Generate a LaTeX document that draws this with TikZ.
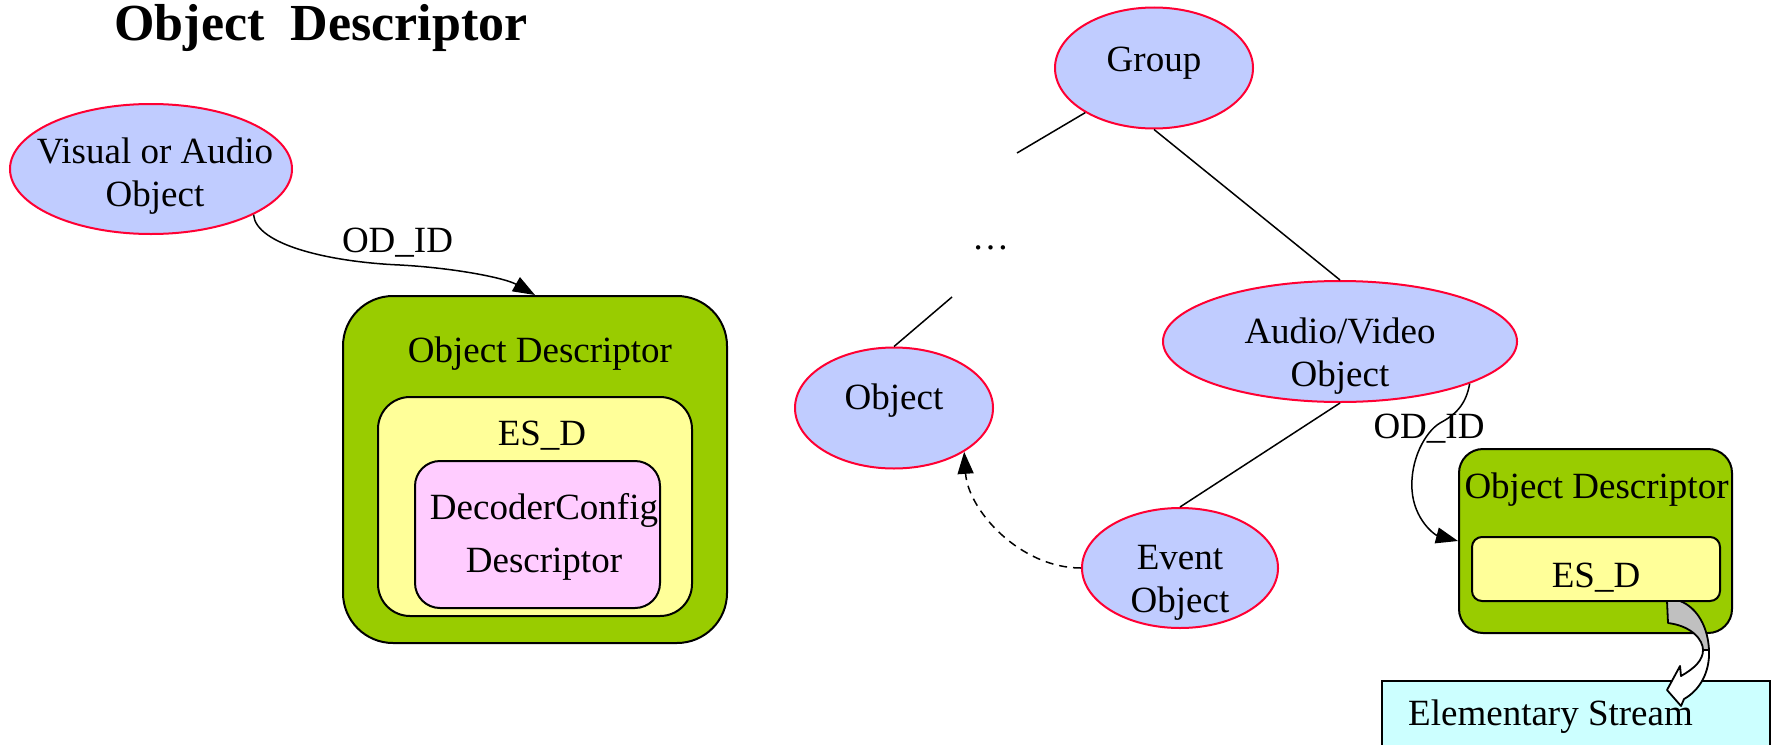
\documentclass[tikz,border=0pt]{standalone}
\usepackage{fontspec}
\setmainfont{Liberation Serif}
\usetikzlibrary{shapes.geometric,arrows.meta}

\definecolor{objfill}{RGB}{192,204,255}
\definecolor{objline}{RGB}{255,0,51}
\definecolor{odgreen}{RGB}{153,204,0}
\definecolor{esyellow}{RGB}{255,255,153}
\definecolor{dcpink}{RGB}{255,204,255}
\definecolor{escyan}{RGB}{204,255,255}
\definecolor{ribbongrey}{RGB}{192,192,192}

\begin{document}
\begin{tikzpicture}[x=0.5pt,y=-0.5pt,
  txt/.style={font=\fontsize{18.5pt}{21.5pt}\selectfont, inner sep=0pt, align=center},
  obj/.style={ellipse, draw=objline, fill=objfill, line width=1pt, inner sep=0pt},
  box/.style={draw=black, line width=1pt, inner sep=0pt},
  link/.style={line width=0.75pt},
  tip/.style={-{Triangle[length=11pt,width=8pt]}},
  ribbon/.style={draw=black, line width=0.9pt, line join=round},
]
\useasboundingbox (0,0) rectangle (1776,744);

% heading
\node[font=\fontsize{26pt}{30pt}\selectfont\bfseries, anchor=base, inner sep=0pt]
  (title) at (321,40) {Object~~Descriptor};

% scene objects
\node[obj, minimum width=141pt, minimum height=65pt] (vis) at (151,169) {};
\node[txt] (vistxt) at (155,176) {Visual or Audio\\Object};

\node[obj, minimum width=99pt, minimum height=60.5pt] (group) at (1154,68) {};
\node[txt, anchor=base] (grouptxt) at (1154,71) {Group};

\node[obj, minimum width=177pt, minimum height=60.5pt] (av) at (1340,341.5) {};
\node[txt] (avtxt) at (1340,356) {Audio/Video\\Object};

\node[obj, minimum width=99pt, minimum height=60.5pt] (obj) at (894,408) {};
\node[txt, anchor=base] (objtxt) at (894,409) {Object};

\node[obj, minimum width=98pt, minimum height=60pt] (event) at (1180,568) {};
\node[txt] (eventtxt) at (1180,583) {Event\\Object};

\node[txt, anchor=base] (dots) at (990.5,249) {…};

% scene tree
\coordinate (dotsup) at (1017,153);
\coordinate (dotslow) at (952,297);
\draw[link] (group.-147) -- (dotsup);
\draw[link] (group.south) -- (av.north);
\draw[link] (dotslow) -- (obj.north);
\draw[link] (av.south) -- (event.north);

% nested descriptors, left
\node[box, fill=odgreen, rounded corners=25pt, minimum width=192pt, minimum height=173.5pt] (od1) at (535,469.5) {};
\node[txt, anchor=base] (od1title) at (540,362) {Object Descriptor};
\node[box, fill=esyellow, rounded corners=16pt, minimum width=157pt, minimum height=109.5pt] (esd1) at (535,506.5) {};
\node[txt, anchor=base] (esd1label) at (542,445) {ES\_D};
\node[box, fill=dcpink, rounded corners=12.5pt, minimum width=122.5pt, minimum height=73.5pt] (dcd) at (537.5,534.5) {};
\node[txt, font=\fontsize{18.5pt}{26.5pt}\selectfont] (dcdtxt) at (544,537) {DecoderConfig\\Descriptor};

% nested descriptors, right
\node[box, fill=odgreen, rounded corners=12pt, minimum width=136.5pt, minimum height=92pt] (od2) at (1595.5,541) {};
\node[txt, anchor=base] (od2title) at (1596.5,498) {Object Descriptor};
\node[box, fill=esyellow, rounded corners=5pt, minimum width=124pt, minimum height=32pt] (esd2) at (1596,569) {};
\node[txt, anchor=base] (esd2label) at (1596,587) {ES\_D};

% elementary stream
\node[box, fill=escyan, minimum width=194pt, minimum height=49.5pt] (es) at (1576,730.5) {};

% curved block arrow from ES_D down to the stream
\draw[ribbon, fill=ribbongrey] (1667,601) -- (1680,601)
  .. controls (1698,608) and (1708,628) .. (1709,650) -- (1703,650)
  .. controls (1703,640) and (1692,626) .. (1668,623) -- cycle;
\draw[ribbon, fill=white] (1709,650)
  .. controls (1710,672) and (1700,690) .. (1684,699)
  -- (1681,706) -- (1667,690) -- (1680,666) -- (1681,676)
  .. controls (1695,668) and (1703,660) .. (1703,650) -- cycle;

\node[txt, anchor=base] (estxt) at (1550.5,725) {Elementary Stream};

% labels and references
\node[txt, anchor=base] (odid1) at (397.5,252) {OD\_ID};
\node[txt, anchor=base] (odid2) at (1429,438) {OD\_ID};

\draw[link, tip] (vis.-24) .. controls (256,245) and (330,262) .. (400,265)
  .. controls (455,268) and (505,278) .. (od1.north);
\draw[link, tip] (av.-18.5) .. controls (1466,405) and (1455,415) .. (1440,423)
  .. controls (1425,432) and (1410,460) .. (1412,490)
  .. controls (1414,520) and (1435,535) .. (od2.west);
\draw[link, dash pattern=on 4pt off 3pt, tip] (event.west)
  .. controls (1020,568) and (968,510) .. (obj.-32);
\end{tikzpicture}
\end{document}
